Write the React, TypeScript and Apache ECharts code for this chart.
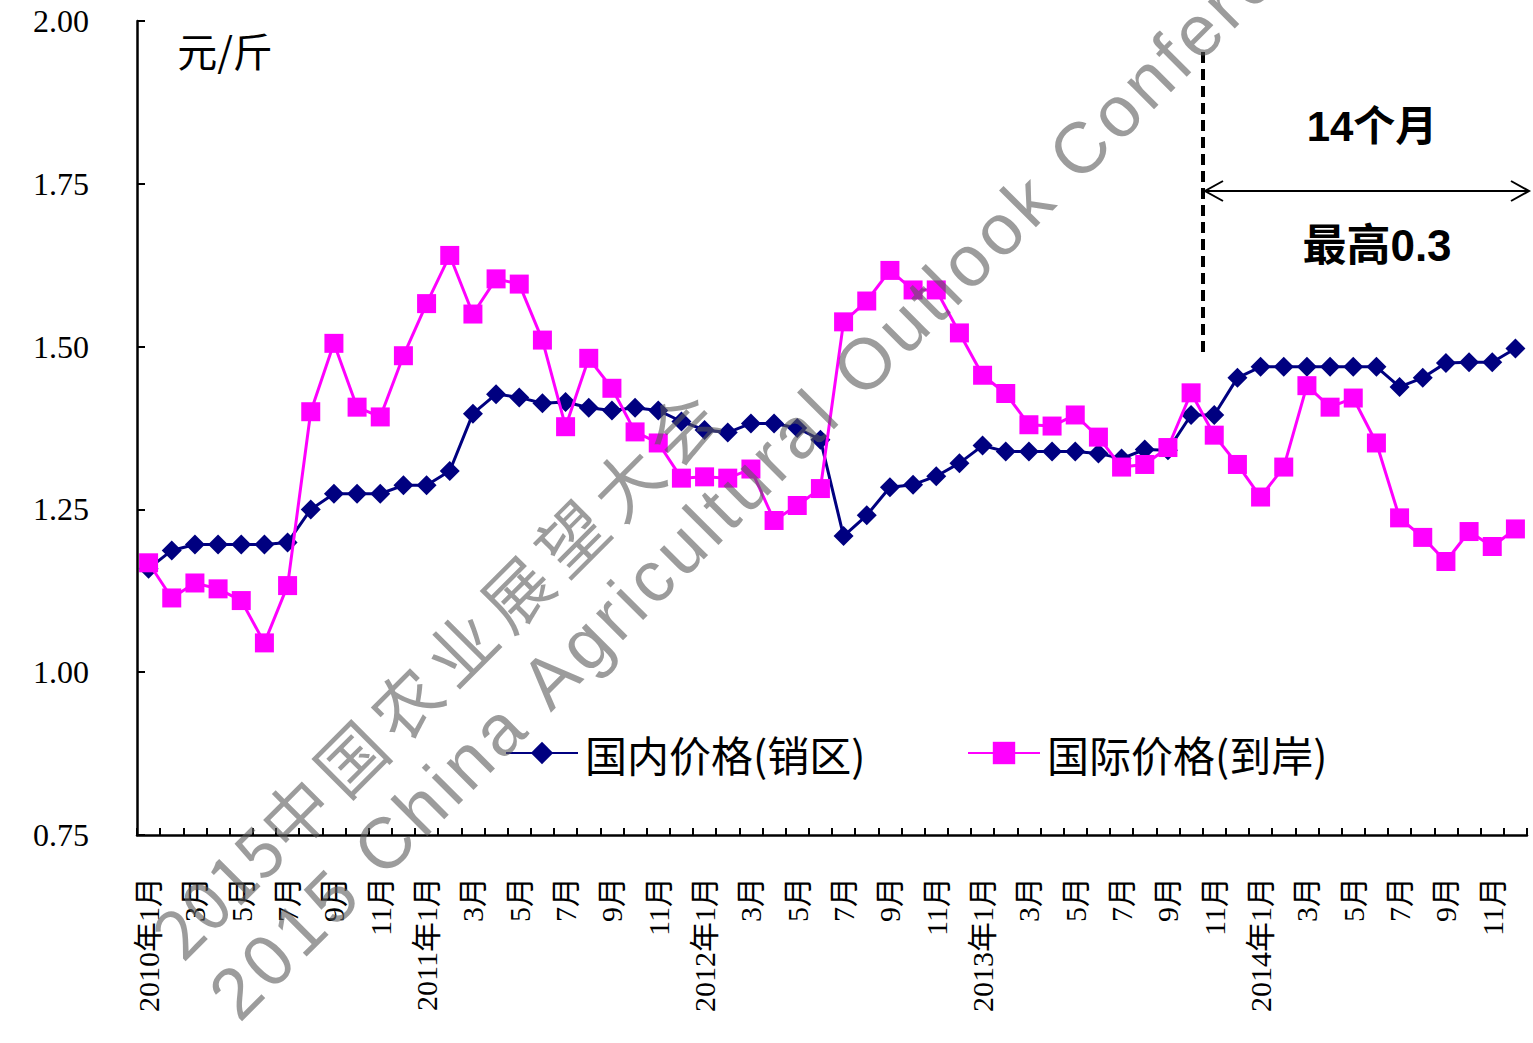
import React, { useEffect, useRef } from 'react';
import * as echarts from 'echarts';

const categories = [
  '2010年1月', '2月', '3月', '4月', '5月', '6月', '7月', '8月', '9月', '10月', '11月', '12月',
  '2011年1月', '2月', '3月', '4月', '5月', '6月', '7月', '8月', '9月', '10月', '11月', '12月',
  '2012年1月', '2月', '3月', '4月', '5月', '6月', '7月', '8月', '9月', '10月', '11月', '12月',
  '2013年1月', '2月', '3月', '4月', '5月', '6月', '7月', '8月', '9月', '10月', '11月', '12月',
  '2014年1月', '2月', '3月', '4月', '5月', '6月', '7月', '8月', '9月', '10月', '11月', '12月',
];

const domesticName = '国内价格(销区)';
const internationalName = '国际价格(到岸)';

const domestic = [
  1.159, 1.187, 1.196, 1.196, 1.196, 1.196, 1.199, 1.250, 1.274, 1.274, 1.274, 1.287,
  1.287, 1.309, 1.397, 1.427, 1.422, 1.413, 1.415, 1.406, 1.402, 1.406, 1.402, 1.385,
  1.372, 1.368, 1.382, 1.382, 1.375, 1.357, 1.209, 1.241, 1.284, 1.288, 1.301, 1.321,
  1.348, 1.339, 1.339, 1.339, 1.339, 1.336, 1.328, 1.342, 1.341, 1.395, 1.395, 1.452,
  1.469, 1.469, 1.469, 1.469, 1.469, 1.469, 1.438, 1.452, 1.475, 1.476, 1.476, 1.497,
];

const international = [
  1.168, 1.114, 1.137, 1.128, 1.110, 1.045, 1.133, 1.400, 1.505, 1.407, 1.392, 1.486,
  1.566, 1.640, 1.550, 1.604, 1.596, 1.510, 1.377, 1.482, 1.436, 1.369, 1.352, 1.298,
  1.300, 1.298, 1.312, 1.233, 1.256, 1.282, 1.538, 1.570, 1.617, 1.587, 1.587, 1.521,
  1.456, 1.428, 1.380, 1.378, 1.395, 1.361, 1.315, 1.319, 1.345, 1.429, 1.364, 1.319,
  1.269, 1.315, 1.440, 1.407, 1.421, 1.352, 1.237, 1.207, 1.170, 1.216, 1.193, 1.220,
];

const yMin = 0.75;
const yMax = 2.0;
const yInterval = 0.25;

const unitLabel = '元/斤';
const spanLabel = '14个月';
const maxLabel = '最高0.3';
const watermark1 = '2015中国农业展望大会';
const watermark2 = '2015 China Agricultural Outlook Conference';

const serifFont = "'Liberation Serif','Noto Sans CJK SC',serif";
const cjkFont = "'Noto Sans CJK SC','Liberation Sans',sans-serif";
const boldFont = "'Liberation Sans','Noto Sans CJK SC',sans-serif";

function layoutWatermark(
  text: string,
  fontSize: number,
  family: string,
  spacingFor: (ch: string) => number,
  startX: number,
  startY: number,
  fill: string,
) {
  const canvas = document.createElement('canvas');
  const ctx = canvas.getContext('2d') as CanvasRenderingContext2D;
  const font = `${fontSize}px ${family}`;
  ctx.font = font;
  const chars = Array.from(text);
  const c = Math.SQRT1_2;
  const els: any[] = [];
  let d = -ctx.measureText(chars[0]).width / 2;
  for (const ch of chars) {
    const w = ctx.measureText(ch).width;
    const center = d + w / 2;
    if (ch !== ' ') {
      els.push({
        type: 'text',
        x: startX + center * c,
        y: startY - center * c,
        rotation: Math.PI / 4,
        z: 100,
        silent: true,
        style: {
          text: ch,
          font,
          fill,
          textAlign: 'center',
          textVerticalAlign: 'middle',
          align: 'center',
          verticalAlign: 'middle',
        },
      });
    }
    d += w + spacingFor(ch);
  }
  return els;
}

export default function App() {
  const ref = useRef<HTMLDivElement>(null);

  useEffect(() => {
    if (!ref.current) return;
    const chart = echarts.init(ref.current, undefined, { renderer: 'svg' });
    const wmColor = 'rgba(90,90,90,0.6)';
    const isCJK = (ch: string) => /[\u4e00-\u9fff]/.test(ch);

    const wm1 = layoutWatermark(
      watermark1, 68, "'Noto Sans CJK SC',sans-serif",
      (ch) => (isCJK(ch) ? 10 : 0), 176, 929, wmColor,
    );
    const wm2 = layoutWatermark(
      watermark2, 72, "'Liberation Sans',sans-serif",
      () => 4.7, 236, 992, wmColor,
    );

    const legendText = { fontSize: 42, fontFamily: cjkFont, color: '#000', padding: [0, 0, 0, 2] };

    const option: any = {
      animation: false,
      backgroundColor: '#ffffff',
      grid: { left: 137, right: 6, top: 21, bottom: 208, containLabel: false },
      xAxis: {
        type: 'category',
        data: categories,
        boundaryGap: true,
        axisLine: { show: true, lineStyle: { color: '#000', width: 2.5 } },
        axisTick: { show: true, inside: true, length: 7, interval: 0, lineStyle: { color: '#000', width: 2 } },
        axisLabel: {
          interval: 1,
          rotate: 90,
          margin: 42,
          fontSize: 30,
          fontFamily: serifFont,
          color: '#000',
        },
        splitLine: { show: false },
      },
      yAxis: {
        type: 'value',
        min: yMin,
        max: yMax,
        interval: yInterval,
        axisLine: { show: true, lineStyle: { color: '#000', width: 2.5 } },
        axisTick: { show: true, inside: true, length: 8, lineStyle: { color: '#000', width: 2 } },
        axisLabel: {
          formatter: (v: number) => v.toFixed(2),
          fontSize: 32,
          fontFamily: serifFont,
          color: '#000',
          margin: 48,
        },
        splitLine: { show: false },
      },
      legend: [
        {
          data: [domesticName],
          left: 500,
          top: 727,
          itemWidth: 72,
          itemHeight: 28,
          textStyle: legendText,
        },
        {
          data: [internationalName],
          left: 962,
          top: 727,
          itemWidth: 72,
          itemHeight: 28,
          textStyle: legendText,
        },
      ],
      series: [
        {
          name: domesticName,
          type: 'line',
          data: domestic,
          symbol: 'diamond',
          symbolSize: 20,
          showAllSymbol: true,
          lineStyle: { color: '#000080', width: 3 },
          itemStyle: { color: '#000080' },
          z: 2,
        },
        {
          name: internationalName,
          type: 'line',
          data: international,
          symbol: 'rect',
          symbolSize: 19,
          showAllSymbol: true,
          lineStyle: { color: '#FF00FF', width: 3 },
          itemStyle: { color: '#FF00FF' },
          z: 3,
        },
      ],
      graphic: [
        {
          type: 'text',
          x: 225,
          y: 50,
          z: 50,
          style: {
            text: unitLabel,
            font: `40px ${cjkFont}`,
            fill: '#000',
            textAlign: 'center',
            textVerticalAlign: 'middle',
            align: 'center',
            verticalAlign: 'middle',
          },
        },
        {
          type: 'line',
          z: 50,
          shape: { x1: 1203, y1: 52, x2: 1203, y2: 356 },
          style: { stroke: '#000', lineWidth: 4, lineDash: [11, 6] },
        },
        {
          type: 'line',
          z: 50,
          shape: { x1: 1205, y1: 191, x2: 1529, y2: 191 },
          style: { stroke: '#000', lineWidth: 2 },
        },
        {
          type: 'polyline',
          z: 50,
          shape: { points: [[1223, 181], [1205, 191], [1223, 201]] },
          style: { stroke: '#000', lineWidth: 2, fill: 'none' },
        },
        {
          type: 'polyline',
          z: 50,
          shape: { points: [[1511, 181], [1529, 191], [1511, 201]] },
          style: { stroke: '#000', lineWidth: 2, fill: 'none' },
        },
        {
          type: 'text',
          x: 1372,
          y: 126,
          z: 50,
          style: {
            text: spanLabel,
            font: `bold 42px ${boldFont}`,
            fill: '#000',
            textAlign: 'center',
            textVerticalAlign: 'middle',
            align: 'center',
            verticalAlign: 'middle',
          },
        },
        {
          type: 'text',
          x: 1377,
          y: 245,
          z: 50,
          style: {
            text: maxLabel,
            font: `bold 44px ${boldFont}`,
            fill: '#000',
            textAlign: 'center',
            textVerticalAlign: 'middle',
            align: 'center',
            verticalAlign: 'middle',
          },
        },
        ...wm1,
        ...wm2,
      ],
    };

    chart.setOption(option);
    return () => chart.dispose();
  }, []);

  return (
    <div
      ref={ref}
      style={{ position: 'absolute', left: 0, top: 0, width: 1533, height: 1043, background: '#fff' }}
    />
  );
}
